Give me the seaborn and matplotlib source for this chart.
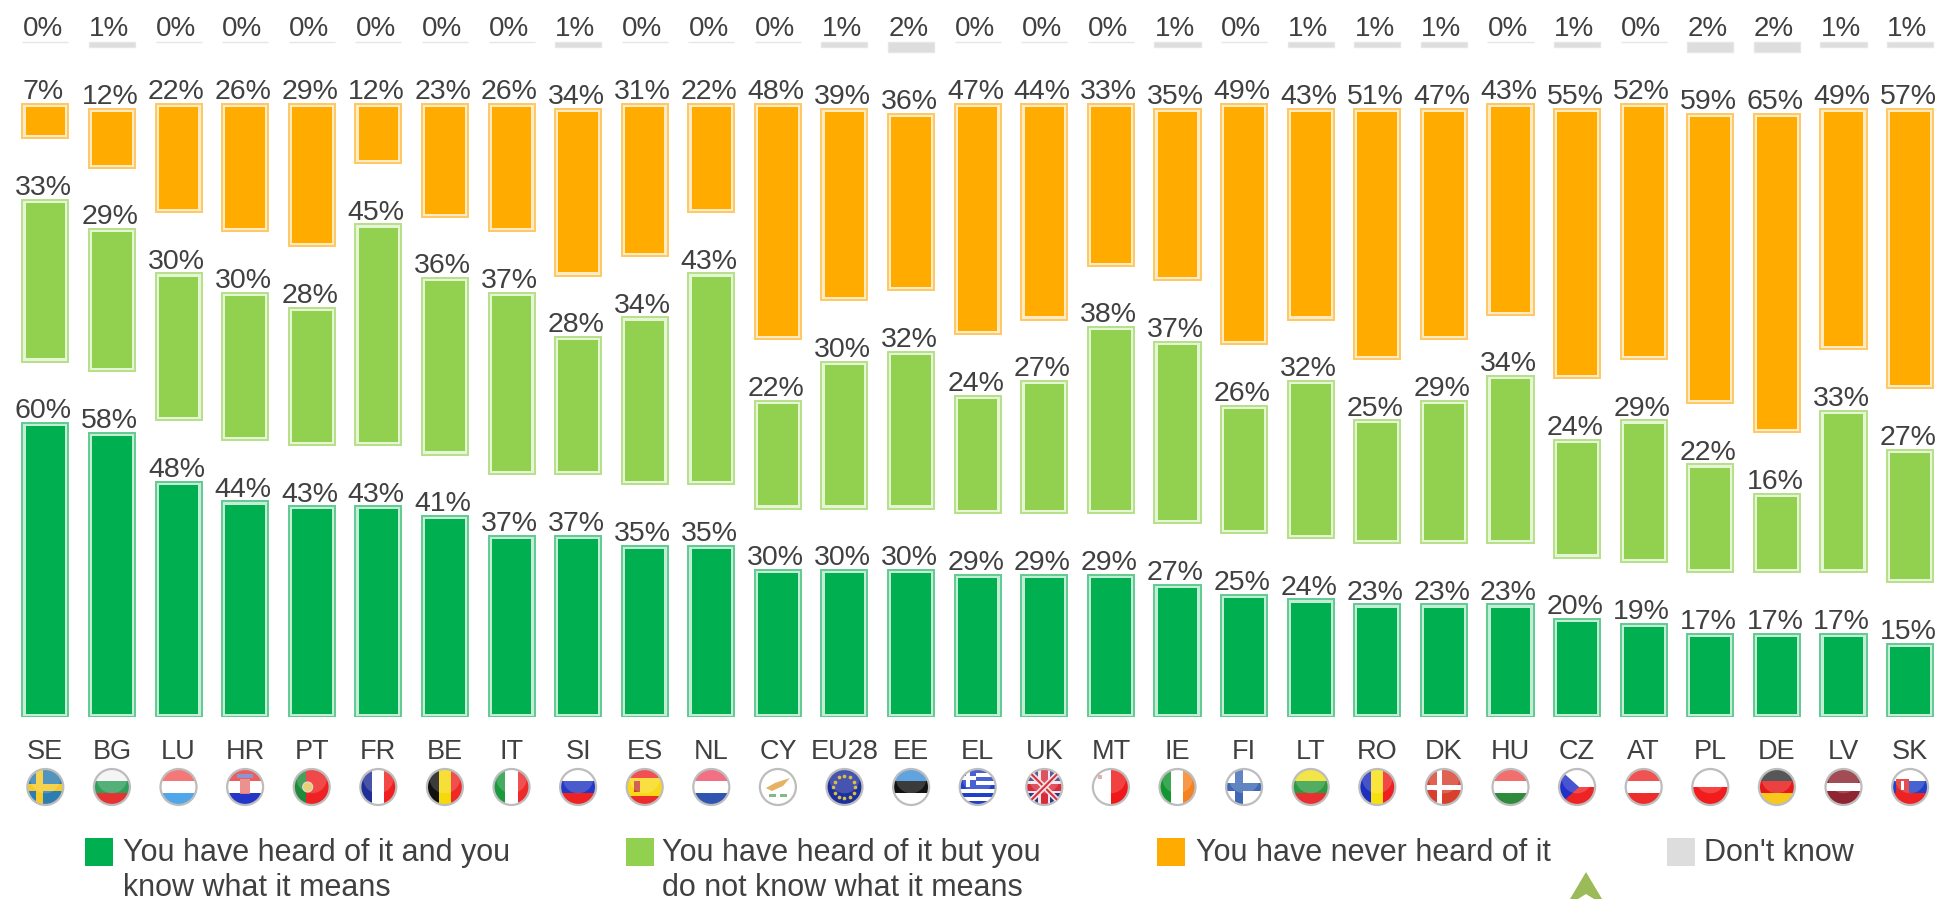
import numpy as np
import pandas as pd
import matplotlib
matplotlib.use('Agg')
import matplotlib.pyplot as plt
import seaborn as sns
from matplotlib.patches import Circle, Rectangle, Polygon

countries = ['SE', 'BG', 'LU', 'HR', 'PT', 'FR', 'BE', 'IT', 'SI', 'ES', 'NL', 'CY', 'EU28', 'EE', 'EL',
             'UK', 'MT', 'IE', 'FI', 'LT', 'RO', 'DK', 'HU', 'CZ', 'AT', 'PL', 'DE', 'LV', 'SK']
heard_know = [60, 58, 48, 44, 43, 43, 41, 37, 37, 35, 35, 30, 30, 30, 29,
              29, 29, 27, 25, 24, 23, 23, 23, 20, 19, 17, 17, 17, 15]
heard_not_know = [33, 29, 30, 30, 28, 45, 36, 37, 28, 34, 43, 22, 30, 32, 24,
                  27, 38, 37, 26, 32, 25, 29, 34, 24, 29, 22, 16, 33, 27]
never_heard = [7, 12, 22, 26, 29, 12, 23, 26, 34, 31, 22, 48, 39, 36, 47,
               44, 33, 35, 49, 43, 51, 47, 43, 55, 52, 59, 65, 49, 57]
dont_know = [0, 1, 0, 0, 0, 0, 0, 0, 1, 0, 0, 0, 1, 2, 0,
             0, 0, 1, 0, 1, 1, 1, 0, 1, 0, 2, 2, 1, 1]

legend_lines = [
    ['You have heard of it and you', 'know what it means'],
    ['You have heard of it but you', 'do not know what it means'],
    ['You have never heard of it'],
    ["Don't know"],
]

GREEN = '#00AF50'
LIGHT = '#92D050'
ORANGE = '#FFAB00'
GREY = '#DDDDDD'
TEXT = '#404040'

W, H = 1937, 899
BASE_Y = 717      # pixel row of the zero line
PX = 4.9          # pixels per percent
STEP = 66.6       # pixels between bars
X0 = 45.3
GAP = 61.5 / PX   # blank space between stacked blocks
DK_TOP = (BASE_Y - 42) / PX
INSET = 3.2

plt.rcParams['font.family'] = ['Liberation Sans', 'DejaVu Sans']
sns.set_style('white')
plt.rcParams['font.family'] = ['Liberation Sans', 'DejaVu Sans']

fig = plt.figure(figsize=(W / 100, H / 100), dpi=100)
ax = fig.add_axes([0, (H - BASE_Y) / H, 1, BASE_Y / H])

know = np.array(heard_know, dtype=float)
notknow = np.array(heard_not_know, dtype=float)
never = np.array(never_heard, dtype=float)
dk = np.array(dont_know, dtype=float)

blocks = [
    (know, np.zeros(len(know)), GREEN, '#5FCB90', '#C4ECD6'),
    (notknow, know + GAP, LIGHT, '#B6E088', '#E6F5D5'),
    (never, know + notknow + 2 * GAP, ORANGE, '#FFC860', '#FFEBC8'),
]

for values, bottoms, main, edge, pale in blocks:
    df = pd.DataFrame({'country': countries, 'value': values})
    # outer pale frame
    sns.barplot(data=df, x='country', y='value', order=countries, bottom=bottoms, color=pale,
                saturation=1, width=46 / STEP, edgecolor=edge, linewidth=1.4, errorbar=None, ax=ax)
    # solid centre
    df['inner'] = values - 2 * INSET / PX
    sns.barplot(data=df, x='country', y='inner', order=countries, bottom=bottoms + INSET / PX, color=main,
                saturation=1, width=(46 - 2 * INSET) / STEP, linewidth=0, errorbar=None, ax=ax)
    for i, v in enumerate(values):
        ax.annotate(f'{v:.0f}%', (i, bottoms[i] + v), xytext=(-1.5, 3.4), textcoords='offset points',
                    ha='center', va='baseline', fontsize=20.5, color=TEXT)

df = pd.DataFrame({'country': countries, 'value': dk})
sns.barplot(data=df, x='country', y='value', order=countries, bottom=DK_TOP - dk, color=GREY,
            saturation=1, width=46 / STEP, edgecolor='#E6E6E6', linewidth=1, errorbar=None, ax=ax)
for i in range(len(countries)):
    ax.annotate(f'{dk[i]:.0f}%', (i, DK_TOP), xytext=(-2, 4.4), textcoords='offset points',
                ha='center', va='baseline', fontsize=20, color=TEXT)

ax.set_xlim(-X0 / STEP, (W - X0) / STEP)
ax.set_ylim(0, BASE_Y / PX)
ax.set_xlabel('')
ax.set_ylabel('')
ax.set_yticks([])
ax.tick_params(axis='x', length=0, pad=16, labelsize=19.5, labelcolor=TEXT)
sns.despine(ax=ax, left=True, bottom=True)

# overlay in pixel coordinates for flags and legend
ov = fig.add_axes([0, 0, 1, 1], facecolor='none')
ov.set_xlim(0, W)
ov.set_ylim(H, 0)
ov.axis('off')

R = 18
FLAG_Y = 787

def stripes(cx, cy, kind, colors, clip):
    n = len(colors)
    for k, c in enumerate(colors):
        if kind == 'h':
            r = Rectangle((cx - R, cy - R + 2 * R * k / n), 2 * R, 2 * R / n + 0.5, fc=c, lw=0)
        else:
            r = Rectangle((cx - R + 2 * R * k / n, cy - R), 2 * R / n + 0.5, 2 * R, fc=c, lw=0)
        ov.add_patch(r)
        r.set_clip_path(clip)

def box(cx, cy, x, y, w, h, c, clip):
    r = Rectangle((cx + x, cy + y), w, h, fc=c, lw=0)
    ov.add_patch(r)
    r.set_clip_path(clip)

flag_stripes = {
    'SE': ('h', ['#2E7DB0']), 'BG': ('h', ['#F4F4F4', '#2F9E5B', '#E53232']),
    'LU': ('h', ['#F45B5B', '#FFFFFF', '#4FA6E8']), 'HR': ('h', ['#E83A3A', '#FFFFFF', '#2436C8']),
    'PT': ('v', ['#1F8A3A', '#EE2222', '#EE2222']), 'FR': ('v', ['#1F2F96', '#FFFFFF', '#F02020']),
    'BE': ('v', ['#111111', '#F5D90A', '#F02828']), 'IT': ('v', ['#1A9A3C', '#FFFFFF', '#EE2A2A']),
    'SI': ('h', ['#FFFFFF', '#2338C4', '#EE2222']), 'ES': ('h', ['#EE2B2B', '#F8D817', '#F8D817', '#EE2B2B']),
    'NL': ('h', ['#F0506A', '#FFFFFF', '#2F55B0']), 'CY': ('h', ['#FFFFFF']), 'EU28': ('h', ['#1E2F9E']),
    'EE': ('h', ['#3C8FD8', '#111111', '#FFFFFF']), 'EL': ('h', ['#2040C8', '#FFFFFF'] * 4 + ['#2040C8']),
    'UK': ('h', ['#2A3A8C']), 'MT': ('v', ['#FFFFFF', '#F01818']), 'IE': ('v', ['#12962F', '#FFFFFF', '#F58220']),
    'FI': ('h', ['#FFFFFF']), 'LT': ('h', ['#F0E020', '#2C9A40', '#E83030']),
    'RO': ('v', ['#1E2FC0', '#F8E010', '#EE2020']), 'DK': ('h', ['#D8402E']),
    'HU': ('h', ['#F05050', '#FFFFFF', '#2E8B3C']), 'CZ': ('h', ['#FFFFFF', '#EE2424']),
    'AT': ('h', ['#EE2C2C', '#FFFFFF', '#EE2C2C']), 'PL': ('h', ['#FFFFFF', '#F21C1C']),
    'DE': ('h', ['#333333', '#E81818', '#F8C81C']), 'LV': ('h', ['#8E2530', '#8E2530', '#FFFFFF', '#8E2530', '#8E2530']),
    'SK': ('h', ['#FFFFFF', '#2040C8', '#EE2222']),
}

for i, code in enumerate(countries):
    cx = X0 + STEP * i
    clip = Circle((cx, FLAG_Y), R, transform=ov.transData)
    kind, cols = flag_stripes[code]
    stripes(cx, FLAG_Y, kind, cols, clip)
    if code == 'SE':
        box(cx, FLAG_Y, -9, -R, 7, 2 * R, '#F5C927', clip)
        box(cx, FLAG_Y, -R, -3.5, 2 * R, 7, '#F5C927', clip)
    elif code == 'FI':
        box(cx, FLAG_Y, -9, -R, 8, 2 * R, '#3F69B5', clip)
        box(cx, FLAG_Y, -R, -4, 2 * R, 8, '#3F69B5', clip)
    elif code == 'DK':
        box(cx, FLAG_Y, -7, -R, 5, 2 * R, '#FFFFFF', clip)
        box(cx, FLAG_Y, -R, -2.5, 2 * R, 5, '#FFFFFF', clip)
    elif code == 'EL':
        box(cx, FLAG_Y, -R, -R, 16, 18, '#2040C8', clip)
        box(cx, FLAG_Y, -12, -R, 4, 18, '#FFFFFF', clip)
        box(cx, FLAG_Y, -R, -11, 16, 4, '#FFFFFF', clip)
    elif code == 'UK':
        for sign in (1, -1):
            ln, = ov.plot([cx - R, cx + R], [FLAG_Y - sign * R, FLAG_Y + sign * R], color='#F2E4E4', lw=4)
            ln.set_clip_path(clip)
            ln, = ov.plot([cx - R, cx + R], [FLAG_Y - sign * R, FLAG_Y + sign * R], color='#D83040', lw=1.5)
            ln.set_clip_path(clip)
        box(cx, FLAG_Y, -6, -R, 12, 2 * R, '#F2E4E4', clip)
        box(cx, FLAG_Y, -R, -6, 2 * R, 12, '#F2E4E4', clip)
        box(cx, FLAG_Y, -3.5, -R, 7, 2 * R, '#D82C3C', clip)
        box(cx, FLAG_Y, -R, -3.5, 2 * R, 7, '#D82C3C', clip)
    elif code == 'CZ':
        tri = Polygon([(cx - R, FLAG_Y - R), (cx + 2, FLAG_Y), (cx - R, FLAG_Y + R)], fc='#2030C8', lw=0)
        ov.add_patch(tri)
        tri.set_clip_path(clip)
    elif code == 'CY':
        ov.add_patch(Polygon([(cx - 12, FLAG_Y + 1), (cx - 3, FLAG_Y - 4), (cx + 12, FLAG_Y - 9),
                              (cx + 5, FLAG_Y - 1), (cx - 6, FLAG_Y + 4)], fc='#E0A040', lw=0))
        box(cx, FLAG_Y, -9, 7, 7, 2.5, '#7DBB8A', clip)
        box(cx, FLAG_Y, 2, 7, 7, 2.5, '#7DBB8A', clip)
    elif code == 'EU28':
        angles = np.arange(12) * np.pi / 6
        ov.scatter(cx + 11 * np.cos(angles), FLAG_Y + 11 * np.sin(angles), s=7, color='#D8C040', lw=0, zorder=3)
    elif code == 'PT':
        ov.add_patch(Circle((cx - 4, FLAG_Y), 5, fc='#E8D070', ec='#DDDDDD', lw=0.8, zorder=3))
    elif code == 'HR':
        box(cx, FLAG_Y, -5, -8, 10, 15, '#E87878', clip)
        box(cx, FLAG_Y, -8, -13, 16, 4, '#7080C8', clip)
    elif code == 'SK':
        box(cx, FLAG_Y, -14, -8, 13, 14, '#E02828', clip)
        box(cx, FLAG_Y, -9, -6, 3, 9, '#FFFFFF', clip)
    elif code == 'ES':
        box(cx, FLAG_Y, -11, -6, 6, 11, '#C84030', clip)
    elif code == 'MT':
        box(cx, FLAG_Y, -13, -12, 4, 4, '#D8A0A0', clip)
    # soft highlight and rim
    ov.add_patch(Circle((cx, FLAG_Y - 9), R * 0.85, fc='white', alpha=0.18, lw=0, clip_path=clip))
    ov.add_patch(Circle((cx, FLAG_Y), R, fc='none', ec='#BDBDBD', lw=1.6))

legend_x = [85, 626, 1157, 1667]
legend_text_x = [123, 662, 1196, 1704]
legend_colors = [GREEN, LIGHT, ORANGE, GREY]
for sx, tx, c, lines in zip(legend_x, legend_text_x, legend_colors, legend_lines):
    ov.add_patch(Rectangle((sx, 838), 28, 28, fc=c, lw=0))
    for k, line in enumerate(lines):
        ov.text(tx, 861 + 35 * k, line, fontsize=22, color=TEXT, ha='left', va='baseline')

# green arrow cut by the lower edge
ov.add_patch(Polygon([(1586, 872), (1570, 899), (1578, 899), (1586, 894), (1594, 899), (1602, 899)],
                     fc='#9BBB59', lw=0))

fig.savefig('out.png', dpi=100, facecolor='white')
